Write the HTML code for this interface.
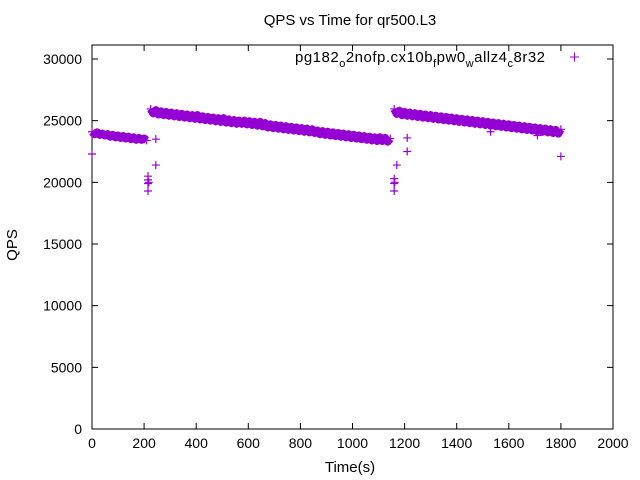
<!DOCTYPE html>
<html><head><meta charset="utf-8"><style>
body{margin:0;background:#fff}
svg{display:block;font-family:"Liberation Sans",sans-serif}
</style></head><body>
<svg id="chart" width="640" height="480" viewBox="0 0 640 480" xmlns="http://www.w3.org/2000/svg">
<text x="350" y="25" font-size="15" text-anchor="middle">QPS vs Time for qr500.L3</text>
<text transform="translate(17,245) rotate(-90)" font-size="15" text-anchor="middle">QPS</text>
<text x="350" y="472" font-size="15" text-anchor="middle">Time(s)</text>
<g id="axes"></g>
<g id="marks"></g>
<g>
<text x="295" y="62" font-size="15" textLength="250" lengthAdjust="spacing">pg182<tspan font-size="11" dy="5">o</tspan><tspan dy="-5">2nofp.cx10b</tspan><tspan font-size="11" dy="5">f</tspan><tspan dy="-5">pw0</tspan><tspan font-size="11" dy="5">w</tspan><tspan dy="-5">allz4</tspan><tspan font-size="11" dy="5">c</tspan><tspan dy="-5">8r32</tspan></text>
<path d="M570,57h9M574.5,52.5v9" stroke="#9400d3" stroke-width="1"/>
</g>
</svg>
<script>
const xTicks=[0,200,400,600,800,1000,1200,1400,1600,1800,2000];
const yTicks=[0,5000,10000,15000,20000,25000,30000];
const seg1Start=0, seg2Start=225, seg3Start=1160, step=10;
const seg1=[24100,23900,24050,23850,23950,23800,23900,23700,23850,23650,23800,23600,23750,23550,23700,23500,23650,23450,23600,23450,23550,23400];
const seg2=[25950,25600,25850,25500,25750,25450,25700,25400,25650,25350,
25600,25300,25550,25250,25500,25200,25450,25150,25450,25100,
25350,25050,25300,25000,25250,24950,25200,24900,25200,24850,
25100,24800,25050,24750,25000,24750,25000,24700,24950,24650,
24900,24600,24900,24550,24800,24450,24700,24400,24650,24350,
24600,24300,24550,24250,24500,24200,24450,24150,24400,24100,
24350,24050,24300,24000,24200,23900,24150,23850,24100,23800,
24050,23750,24000,23700,23950,23650,23900,23600,23850,23550,
23800,23500,23750,23450,23700,23400,23650,23350,23650,23350,
23600,23300,23550];
const seg3=[25950,25550,25800,25450,25700,25400,25650,25350,25600,25300,
25550,25250,25500,25200,25450,25150,25400,25100,25350,25050,
25300,25000,25250,24950,25200,24900,25150,24850,25100,24800,
25050,24750,25000,24700,24950,24650,24900,24600,24850,24550,
24800,24500,24750,24450,24700,24400,24650,24350,24600,24300,
24550,24250,24500,24200,24450,24150,24400,24100,24350,24050,
24300,24000,24250,23950,24300];
const outT=[0,215,215,215,215,218,245,245,1160,1160,1160,1162,1170,1210,1210,1530,1710,1800];
const outV=[22300,20500,20200,19900,19300,20000,23500,21400,20300,19900,19300,20000,21400,23600,22500,24100,23800,22100];

const L=92,R=613,T=45,B=429,xMax=2000,yMax=30000;
const xs=v=>L+(R-L)*v/xMax, ys=v=>B-(B-59)*v/yMax;
const NS="http://www.w3.org/2000/svg";
const axes=document.getElementById('axes'), marks=document.getElementById('marks');
function mk(tag,attrs,parent){const e=document.createElementNS(NS,tag);for(const k in attrs)e.setAttribute(k,attrs[k]);parent.appendChild(e);return e;}
const frame=mk('rect',{x:L,y:T,width:R-L,height:B-T,fill:'none',stroke:'#000','stroke-width':1},axes);


xTicks.forEach(v=>{const x=xs(v);
 const t=mk('path',{d:`M${x},${B}v-6M${x},${T}v6`,stroke:'#000'},axes);
 
 
 const l=mk('text',{x:x,y:B+19,'font-size':14,'text-anchor':'middle'},axes);l.textContent=v;
 
 });
yTicks.forEach(v=>{const y=ys(v);
 const t=mk('path',{d:`M${L},${y}h6M${R},${y}h-6`,stroke:'#000'},axes);
 
 
 const l=mk('text',{x:L-10,y:y+5,'font-size':14,'text-anchor':'end'},axes);l.textContent=v;
 
 });
function plus(t,v){const x=xs(t),y=ys(v);
 const p=mk('path',{d:`M${x-4},${y}h8M${x},${y-4}v8`,stroke:'#9400d3','stroke-width':1.2},marks);
 
 }
[[seg1Start,seg1],[seg2Start,seg2],[seg3Start,seg3]].forEach(([s,a])=>{
 const pts=a.map((v,i)=>`${xs(s+i*step)},${ys(v)}`).join(' ');
 const band=mk('polyline',{points:pts,fill:'none',stroke:'#9400d3','stroke-width':8,'stroke-linejoin':'round'},marks);
 
 
 a.forEach((v,i)=>plus(s+i*step,v));});
outT.forEach((t,i)=>plus(t,outV[i]));
</script>
</body></html>
